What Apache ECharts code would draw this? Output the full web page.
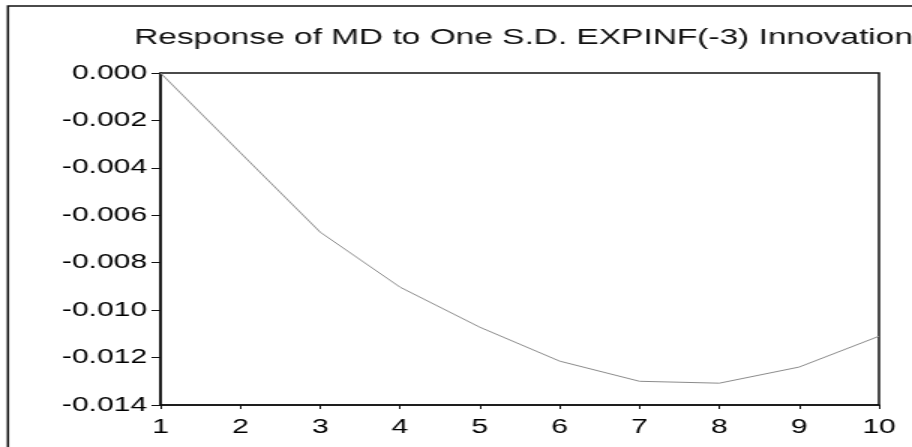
<!DOCTYPE html>
<html>
<head>
    <meta charset="utf-8">
    <title>Response of MD</title>
    <style>
        html, body {
            margin: 0;
            padding: 0;
            background: #fff;
            overflow: hidden;
        }
        /* the source picture is stretched sideways, so draw narrow and scale */
        #container {
            width: 608px;
            height: 447px;
            transform: scaleX(1.5);
            transform-origin: 0 0;
        }
    </style>
</head>
<body>
<div id="container"></div>
<script src="https://cdn.jsdelivr.net/npm/echarts@6/dist/echarts.min.js"></script>
<script type="text/javascript">
    var periods = ['1', '2', '3', '4', '5', '6', '7', '8', '9', '10'];
    var response = [0, -0.00336, -0.00671, -0.00903, -0.01072, -0.01215, -0.0130, -0.01308, -0.0124, -0.0111];
    var yMin = -0.014, yMax = 0, yStep = 0.002;
    var titleText = 'Response of MD to One S.D. EXPINF(-3) Innovation';

    var myChart = echarts.init(document.getElementById('container'));

    myChart.setOption({
        backgroundColor: '#fff',
        animation: false,
        title: {
            text: titleText,
            left: 344,
            top: 22,
            textAlign: 'center',
            textStyle: {
                color: '#111',
                fontFamily: 'Liberation Sans',
                fontWeight: 'normal',
                fontSize: 22.3
            }
        },
        grid: {
            left: 107,
            right: 22,
            top: 73,
            bottom: 42,
            show: true,
            borderColor: '#111',
            borderWidth: 1.5
        },
        xAxis: {
            type: 'category',
            data: periods,
            boundaryGap: false,
            axisLine: { onZero: false, lineStyle: { color: '#111', width: 1.5 } },
            axisTick: { alignWithLabel: true, length: 4, lineStyle: { color: '#111' } },
            axisLabel: {
                margin: 12,
                color: '#000',
                fontFamily: 'Liberation Sans',
                fontSize: 20
            },
            splitLine: { show: false }
        },
        yAxis: {
            type: 'value',
            min: yMin,
            max: yMax,
            interval: yStep,
            axisLine: { show: true, lineStyle: { color: '#111', width: 1.5 } },
            axisTick: { show: true, length: 6, lineStyle: { color: '#111' } },
            axisLabel: {
                margin: 9,
                color: '#000',
                fontFamily: 'Liberation Sans',
                fontSize: 20,
                formatter: function (v) {
                    var s = v.toFixed(3);
                    return s === '-0.000' ? '0.000' : s;
                }
            },
            splitLine: { show: false }
        },
        graphic: [
            { // outer frame, top and left only
                type: 'polyline',
                silent: true,
                shape: { points: [[5.3, 447], [5.3, 6], [608, 6]] },
                style: { stroke: '#111', lineWidth: 1.5, fill: null }
            }
        ],
        series: [{
            type: 'line',
            data: response,
            showSymbol: false,
            lineStyle: { color: '#8c8c8c', width: 1 }
        }]
    });
</script>
</body>
</html>
